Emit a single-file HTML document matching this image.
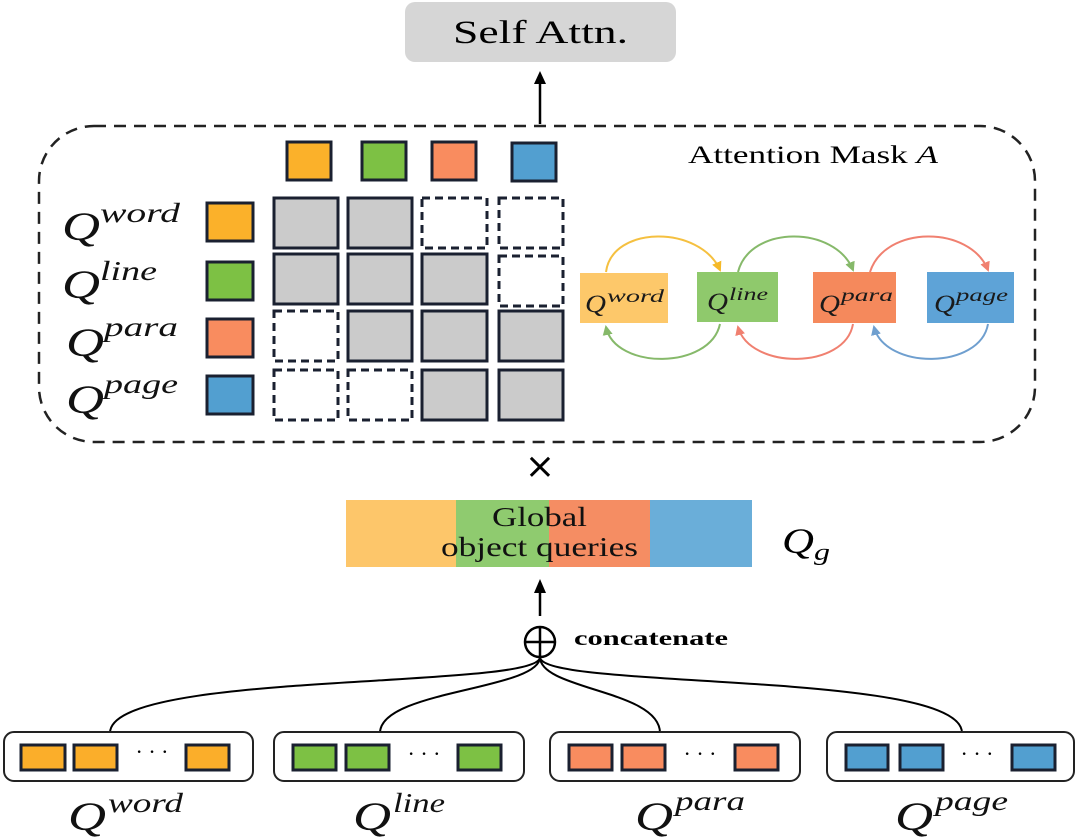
<!DOCTYPE html>
<html><head><meta charset="utf-8"><style>
html,body{margin:0;padding:0;background:#fff;}
svg{display:block;}
.q{font-family:"Liberation Serif",serif;font-style:italic;}
</style></head><body>
<svg width="1080" height="837" viewBox="0 0 1080 837" xmlns="http://www.w3.org/2000/svg">
<defs>
<marker id="ay" markerWidth="10" markerHeight="10" refX="8" refY="5" orient="auto" markerUnits="userSpaceOnUse"><path d="M0,0 L10,5 L0,10 z" fill="#f5b928"/></marker>
<marker id="ag" markerWidth="10" markerHeight="10" refX="8" refY="5" orient="auto" markerUnits="userSpaceOnUse"><path d="M0,0 L10,5 L0,10 z" fill="#86b96a"/></marker>
<marker id="ar" markerWidth="10" markerHeight="10" refX="8" refY="5" orient="auto" markerUnits="userSpaceOnUse"><path d="M0,0 L10,5 L0,10 z" fill="#f08070"/></marker>
<marker id="ab" markerWidth="10" markerHeight="10" refX="8" refY="5" orient="auto" markerUnits="userSpaceOnUse"><path d="M0,0 L10,5 L0,10 z" fill="#6f9fcf"/></marker>
</defs>

<!-- Self Attn -->
<rect x="405" y="2" width="271" height="60" rx="10" fill="#d6d6d6"/>
<text x="453" y="43" font-family="Liberation Serif,serif" font-size="33" textLength="175" lengthAdjust="spacingAndGlyphs">Self Attn.</text>
<line x1="540" y1="124" x2="540" y2="80" stroke="#000" stroke-width="2.5"/>
<path d="M534,84 L540,71 L546,84 z" fill="#000"/>

<!-- dashed container -->
<rect x="39" y="126" width="996" height="316" rx="55" fill="none" stroke="#222" stroke-width="2.5" stroke-dasharray="12,8"/>
<text x="688" y="163" font-family="Liberation Serif,serif" font-size="25" textLength="250" lengthAdjust="spacingAndGlyphs">Attention Mask <tspan font-style="italic">A</tspan></text>

<!-- top squares -->
<g stroke="#1a2030" stroke-width="3">
<rect x="287" y="142" width="44" height="38" fill="#fbb12a"/>
<rect x="362" y="142" width="44" height="38" fill="#7dc144"/>
<rect x="432" y="142" width="44" height="38" fill="#f98c5f"/>
<rect x="512" y="143" width="44" height="38" fill="#529fd0"/>
<rect x="207" y="203" width="46" height="38" fill="#fbb12a"/>
<rect x="207" y="262" width="46" height="38" fill="#7dc144"/>
<rect x="207" y="319" width="46" height="38" fill="#f98c5f"/>
<rect x="207" y="376" width="46" height="38" fill="#529fd0"/>
</g>

<!-- labels -->
<g class="q" fill="#111">
<text x="62" y="240" font-size="40" textLength="38" lengthAdjust="spacingAndGlyphs">Q</text>
<text x="100" y="222" font-size="27" textLength="80" lengthAdjust="spacingAndGlyphs">word</text>
<text x="62" y="298" font-size="40" textLength="38" lengthAdjust="spacingAndGlyphs">Q</text>
<text x="100" y="280" font-size="27" textLength="57" lengthAdjust="spacingAndGlyphs">line</text>
<text x="66" y="356" font-size="40" textLength="38" lengthAdjust="spacingAndGlyphs">Q</text>
<text x="104" y="336" font-size="27" textLength="74" lengthAdjust="spacingAndGlyphs">para</text>
<text x="66" y="413" font-size="40" textLength="38" lengthAdjust="spacingAndGlyphs">Q</text>
<text x="104" y="393" font-size="27" textLength="74" lengthAdjust="spacingAndGlyphs">page</text>
</g>

<!-- grid -->
<g stroke="#1a2030" stroke-width="3">
<rect x="274" y="198" width="64" height="50" fill="#cbcbcb"/>
<rect x="348" y="198" width="64" height="50" fill="#cbcbcb"/>
<rect x="422" y="198" width="65" height="50" fill="none" stroke-dasharray="8,5"/>
<rect x="499" y="198" width="64" height="50" fill="none" stroke-dasharray="8,5"/>
<rect x="274" y="254" width="64" height="50" fill="#cbcbcb"/>
<rect x="348" y="254" width="64" height="50" fill="#cbcbcb"/>
<rect x="422" y="254" width="65" height="50" fill="#cbcbcb"/>
<rect x="499" y="256" width="64" height="50" fill="none" stroke-dasharray="8,5"/>
<rect x="274" y="311" width="64" height="50" fill="none" stroke-dasharray="8,5"/>
<rect x="348" y="311" width="64" height="50" fill="#cbcbcb"/>
<rect x="422" y="311" width="65" height="50" fill="#cbcbcb"/>
<rect x="499" y="311" width="64" height="50" fill="#cbcbcb"/>
<rect x="274" y="370" width="64" height="50" fill="none" stroke-dasharray="8,5"/>
<rect x="348" y="370" width="64" height="50" fill="none" stroke-dasharray="8,5"/>
<rect x="422" y="370" width="65" height="50" fill="#cbcbcb"/>
<rect x="499" y="370" width="64" height="50" fill="#cbcbcb"/>
</g>

<!-- right relation diagram -->
<rect x="580" y="273" width="88" height="50" fill="#fdc86a"/>
<rect x="697" y="272" width="81" height="50" fill="#8fc96c"/>
<rect x="813" y="272" width="83" height="51" fill="#f5895c"/>
<rect x="927" y="272" width="87" height="51" fill="#5ea3d7"/>
<g class="q" fill="#1a1a1a">
<text x="585" y="312" font-size="25" textLength="21" lengthAdjust="spacingAndGlyphs">Q</text>
<text x="607" y="302" font-size="18" textLength="57" lengthAdjust="spacingAndGlyphs">word</text>
<text x="707" y="310" font-size="25" textLength="21" lengthAdjust="spacingAndGlyphs">Q</text>
<text x="729" y="300" font-size="18" textLength="39" lengthAdjust="spacingAndGlyphs">line</text>
<text x="819" y="312" font-size="25" textLength="21" lengthAdjust="spacingAndGlyphs">Q</text>
<text x="841" y="301" font-size="18" textLength="52" lengthAdjust="spacingAndGlyphs">para</text>
<text x="934" y="312" font-size="25" textLength="21" lengthAdjust="spacingAndGlyphs">Q</text>
<text x="956" y="301" font-size="18" textLength="52" lengthAdjust="spacingAndGlyphs">page</text>
</g>
<g fill="none" stroke-width="2">
<path d="M606,272 C612,225 700,225 720,270" stroke="#f5c040" marker-end="url(#ay)"/>
<path d="M738,272 C750,225 835,225 853,270" stroke="#86b96a" marker-end="url(#ag)"/>
<path d="M870,272 C885,225 970,225 988,270" stroke="#f08070" marker-end="url(#ar)"/>
<path d="M720,324 C710,370 615,370 606,327" stroke="#86b96a" marker-end="url(#ag)"/>
<path d="M853,324 C845,370 750,370 738,327" stroke="#f08070" marker-end="url(#ar)"/>
<path d="M988,324 C980,370 885,370 874,327" stroke="#6f9fcf" marker-end="url(#ab)"/>
</g>

<!-- times -->
<text x="540" y="478" text-anchor="middle" font-family="DejaVu Sans,sans-serif" font-size="36">×</text>

<!-- global bar -->
<rect x="346" y="500" width="110" height="67" fill="#fdc66a"/>
<rect x="456" y="500" width="93" height="67" fill="#8fcb6f"/>
<rect x="549" y="500" width="101" height="67" fill="#f58d63"/>
<rect x="650" y="500" width="102" height="67" fill="#6aaed9"/>
<text x="492" y="526" font-family="Liberation Serif,serif" font-size="27" fill="#111" textLength="95" lengthAdjust="spacingAndGlyphs">Global</text>
<text x="441" y="556" font-family="Liberation Serif,serif" font-size="27" fill="#111" textLength="197" lengthAdjust="spacingAndGlyphs">object queries</text>
<text x="782" y="553" class="q" font-size="36" textLength="32" lengthAdjust="spacingAndGlyphs">Q</text>
<text x="814" y="560" class="q" font-size="24" textLength="16" lengthAdjust="spacingAndGlyphs">g</text>

<line x1="540" y1="616" x2="540" y2="590" stroke="#000" stroke-width="2.5"/>
<path d="M534,593 L540,579 L546,593 z" fill="#000"/>
<circle cx="540" cy="642" r="15" fill="none" stroke="#000" stroke-width="2.5"/>
<line x1="525" y1="642" x2="555" y2="642" stroke="#000" stroke-width="2.5"/>
<line x1="540" y1="627" x2="540" y2="657" stroke="#000" stroke-width="2.5"/>
<text x="574" y="645" font-family="Liberation Serif,serif" font-weight="bold" font-size="21" textLength="154" lengthAdjust="spacingAndGlyphs">concatenate</text>

<!-- connectors -->
<g fill="none" stroke="#000" stroke-width="2">
<path d="M540,657 C540,690 110,670 110,733"/>
<path d="M540,657 C540,690 380,690 380,733"/>
<path d="M540,657 C540,690 660,690 660,733"/>
<path d="M540,657 C540,690 962,670 962,733"/>
</g>

<!-- bottom boxes -->
<g fill="#fff" stroke="#222" stroke-width="2">
<rect x="4" y="732" width="249" height="49" rx="10"/>
<rect x="274" y="732" width="250" height="49" rx="10"/>
<rect x="550" y="732" width="250" height="49" rx="10"/>
<rect x="827" y="732" width="247" height="49" rx="10"/>
</g>
<g stroke="#1a2030" stroke-width="3">
<rect x="21" y="745" width="44" height="25" fill="#fbae2a"/>
<rect x="74" y="745" width="43" height="25" fill="#fbae2a"/>
<rect x="186" y="745" width="43" height="25" fill="#fbae2a"/>
<rect x="293" y="745" width="43" height="25" fill="#7dc144"/>
<rect x="346" y="745" width="43" height="25" fill="#7dc144"/>
<rect x="458" y="745" width="43" height="25" fill="#7dc144"/>
<rect x="569" y="745" width="43" height="25" fill="#f98c5f"/>
<rect x="622" y="745" width="43" height="25" fill="#f98c5f"/>
<rect x="735" y="745" width="43" height="25" fill="#f98c5f"/>
<rect x="846" y="745" width="42" height="25" fill="#529fd0"/>
<rect x="900" y="745" width="43" height="25" fill="#529fd0"/>
<rect x="1012" y="745" width="43" height="25" fill="#529fd0"/>
</g>
<g font-family="Liberation Serif,serif" font-size="22" text-anchor="middle">
<text x="152" y="759">· · ·</text>
<text x="424" y="761">· · ·</text>
<text x="700" y="761">· · ·</text>
<text x="977" y="761">· · ·</text>
</g>
<g class="q" fill="#111">
<text x="68" y="830" font-size="40" textLength="38" lengthAdjust="spacingAndGlyphs">Q</text>
<text x="108" y="812" font-size="27" textLength="75" lengthAdjust="spacingAndGlyphs">word</text>
<text x="353" y="830" font-size="40" textLength="38" lengthAdjust="spacingAndGlyphs">Q</text>
<text x="393" y="812" font-size="27" textLength="52" lengthAdjust="spacingAndGlyphs">line</text>
<text x="635" y="830" font-size="40" textLength="38" lengthAdjust="spacingAndGlyphs">Q</text>
<text x="675" y="810" font-size="27" textLength="70" lengthAdjust="spacingAndGlyphs">para</text>
<text x="895" y="830" font-size="40" textLength="38" lengthAdjust="spacingAndGlyphs">Q</text>
<text x="935" y="810" font-size="27" textLength="73" lengthAdjust="spacingAndGlyphs">page</text>
</g>
</svg>
</body></html>
